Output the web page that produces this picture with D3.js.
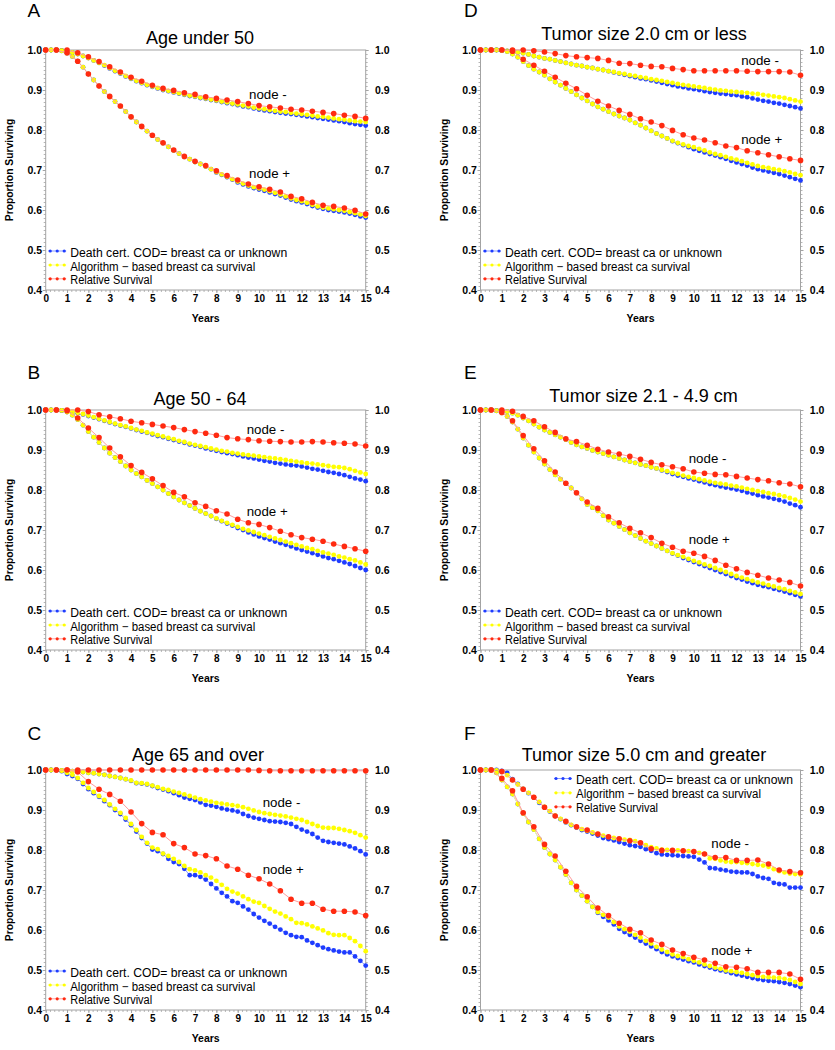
<!DOCTYPE html>
<html><head><meta charset="utf-8">
<script src="https://cdn.jsdelivr.net/npm/d3@7"></script>
<style>
body{margin:0;background:#fff}
svg{display:block}
text{font-family:"Liberation Sans",Arial,Helvetica,sans-serif;fill:#000}
</style></head>
<body><svg id="c" width="835" height="1050"></svg>
<script>
// ---------------- DATA ----------------
const quarterYears = [0,0.25,0.5,0.75,1,1.25,1.5,1.75,2,2.25,2.5,2.75,3,3.25,3.5,3.75,4,4.25,4.5,4.75,5,5.25,5.5,5.75,6,6.25,6.5,6.75,7,7.25,7.5,7.75,8,8.25,8.5,8.75,9,9.25,9.5,9.75,10,10.25,10.5,10.75,11,11.25,11.5,11.75,12,12.25,12.5,12.75,13,13.25,13.5,13.75,14,14.25,14.5,14.75,15];
const halfYears = [0,0.5,1,1.5,2,2.5,3,3.5,4,4.5,5,5.5,6,6.5,7,7.5,8,8.5,9,9.5,10,10.5,11,11.5,12,12.5,13,13.5,14,14.5,15];
const xTickValues = [0,1,2,3,4,5,6,7,8,9,10,11,12,13,14,15];
const yTickValues = [0.4,0.5,0.6,0.7,0.8,0.9,1.0];
const panelLetters = ["A","B","C","D","E","F"];
const panelTitles = ["Age under 50","Age 50 - 64","Age 65 and over","Tumor size 2.0 cm or less","Tumor size 2.1 - 4.9 cm","Tumor size 5.0 cm and greater"];
const seriesNames = ["Death cert. COD= breast ca or unknown","Algorithm \u2212 based breast ca survival","Relative Survival"];
const groupNames = ["node -","node +"];
// label anchors [year, proportion] for "node -" and "node +"
const nodeLabelAnchors = [
  [[9.53,0.877],[9.53,0.679]],
  [[9.42,0.939],[9.42,0.735]],
  [[10.17,0.908],[10.17,0.739]],
  [[12.22,0.9625],[12.22,0.765]],
  [[9.76,0.868],[9.76,0.666]],
  [[10.82,0.804],[10.82,0.5375]]
];

// Panel A: Age under 50
const aNegDC = [1,1,1,.999,.997,.994,.990,.985,.980,.974,.968,.961,.954,.947,.941,.934,.928,.922,.917,.912,.908,.904,.900,.897,.894,.891,.888,.885,.883,.880,.878,.875,.873,.870,.867,.865,.862,.859,.857,.854,.851,.849,.847,.845,.843,.841,.840,.838,.836,.834,.832,.830,.828,.826,.824,.822,.820,.817,.815,.813,.811];
const aNegAlg = [1,1,1,.999,.997,.994,.990,.985,.980,.974,.968,.962,.955,.948,.942,.935,.929,.923,.918,.913,.909,.905,.901,.898,.895,.892,.889,.886,.884,.881,.879,.876,.874,.871,.869,.866,.864,.861,.859,.856,.854,.852,.850,.848,.846,.845,.843,.841,.840,.838,.836,.834,.833,.831,.829,.827,.826,.824,.822,.821,.820];
const aNegRel = [1,1,1,.993,.983,.971,.958,.945,.932,.922,.912,.904,.899,.893,.889,.883,.879,.875,.871,.866,.861,.858,.855,.852,.850,.847,.844,.841,.837,.834,.829];
const aPosDC = [1,1,1,.998,.992,.984,.972,.957,.940,.925,.910,.896,.883,.871,.859,.846,.832,.820,.808,.797,.786,.776,.767,.758,.749,.741,.733,.727,.720,.715,.709,.702,.694,.688,.682,.676,.669,.664,.659,.655,.651,.648,.644,.640,.636,.631,.626,.622,.619,.615,.610,.606,.603,.600,.598,.596,.594,.591,.588,.584,.581];
const aPosAlg = [1,1,1,.998,.992,.984,.972,.957,.940,.925,.910,.896,.883,.871,.859,.846,.832,.820,.808,.797,.786,.776,.767,.758,.749,.741,.733,.727,.720,.715,.709,.702,.695,.689,.683,.677,.671,.666,.661,.657,.654,.651,.647,.643,.639,.634,.629,.625,.622,.618,.613,.609,.606,.604,.602,.600,.598,.595,.592,.589,.585];
const aPosRel = [1,1,.993,.972,.940,.910,.884,.860,.833,.809,.787,.768,.750,.734,.722,.711,.698,.686,.675,.665,.658,.652,.645,.634,.628,.619,.612,.609,.605,.599,.590];

// Panel B: Age 50 - 64
const bNegDC = [1,1,1,.999,.997,.995,.992,.989,.985,.981,.977,.973,.969,.965,.961,.958,.954,.950,.946,.943,.939,.935,.932,.928,.925,.921,.918,.914,.911,.908,.904,.901,.898,.895,.892,.890,.887,.884,.881,.879,.876,.873,.871,.868,.866,.864,.862,.861,.859,.856,.853,.851,.848,.845,.843,.840,.837,.833,.829,.826,.822];
const bNegAlg = [1,1,1,.999,.998,.996,.993,.990,.986,.982,.978,.974,.970,.966,.962,.959,.955,.951,.948,.944,.941,.937,.934,.930,.927,.923,.920,.916,.913,.910,.907,.904,.901,.898,.896,.893,.891,.889,.887,.886,.884,.882,.880,.879,.877,.875,.873,.871,.869,.867,.866,.864,.862,.860,.858,.857,.855,.852,.848,.844,.840];
const bNegRel = [1,1,1,1,.996,.988,.983,.978,.972,.968,.964,.960,.956,.951,.946,.942,.937,.931,.928,.926,.923,.922,.921,.920,.920,.921,.920,.918,.917,.915,.910];
const bPosDC = [1,1,1,.999,.995,.987,.976,.962,.946,.932,.919,.905,.892,.881,.871,.860,.850,.841,.833,.824,.816,.808,.800,.791,.783,.775,.768,.761,.754,.747,.741,.735,.728,.722,.716,.711,.705,.700,.694,.689,.684,.680,.676,.671,.667,.663,.659,.654,.650,.646,.642,.638,.634,.630,.627,.623,.619,.615,.610,.605,.600];
const bPosAlg = [1,1,1,.999,.995,.987,.976,.962,.946,.932,.919,.905,.892,.881,.871,.860,.850,.841,.833,.824,.816,.808,.800,.791,.783,.775,.768,.761,.754,.747,.741,.735,.729,.723,.718,.713,.708,.703,.699,.695,.691,.687,.683,.679,.675,.671,.667,.663,.659,.655,.652,.648,.644,.641,.638,.634,.631,.627,.624,.619,.614];
const bPosRel = [1,1,.998,.980,.955,.931,.905,.883,.861,.844,.828,.811,.794,.783,.768,.759,.748,.740,.727,.718,.714,.706,.697,.688,.681,.677,.672,.665,.659,.653,.647];

// Panel C: Age 65 and over
const cNegDC = [1,1,1,.999,.998,.997,.996,.995,.993,.992,.990,.988,.985,.983,.980,.977,.973,.967,.966,.964,.960,.955,.951,.947,.942,.937,.931,.928,.925,.919,.913,.911,.908,.904,.901,.899,.896,.890,.885,.881,.878,.875,.872,.871,.870,.868,.865,.858,.851,.846,.840,.831,.823,.820,.818,.816,.814,.809,.804,.797,.789];
const cNegAlg = [1,1,1,.999,.998,.997,.996,.995,.993,.992,.990,.988,.985,.983,.980,.977,.974,.968,.967,.965,.961,.957,.953,.950,.946,.943,.939,.935,.931,.927,.924,.921,.918,.916,.914,.912,.910,.907,.903,.899,.895,.892,.890,.888,.886,.884,.881,.878,.875,.870,.865,.860,.856,.855,.855,.853,.850,.847,.843,.837,.831];
const cNegRel = [1,1,1,1,1,1,1,1,1,1,1,1,1,1,1,1,1,1,1,1,.999,.998,.998,.998,.998,.998,.998,.998,.998,.998,.998];
const cPosDC = [1,1,1,.997,.990,.985,.978,.965,.952,.942,.933,.922,.912,.900,.890,.876,.862,.846,.830,.816,.801,.797,.790,.778,.770,.765,.753,.737,.737,.733,.726,.715,.704,.693,.684,.672,.668,.659,.651,.640,.631,.623,.616,.608,.601,.593,.587,.583,.582,.574,.568,.562,.556,.552,.549,.546,.544,.544,.534,.523,.511];
const cPosAlg = [1,1,1,.998,.993,.988,.980,.968,.955,.945,.935,.925,.914,.903,.893,.880,.865,.850,.833,.818,.806,.802,.791,.785,.778,.770,.760,.752,.749,.744,.737,.731,.723,.713,.703,.696,.691,.684,.677,.671,.668,.660,.653,.646,.641,.634,.627,.618,.617,.614,.609,.604,.599,.592,.588,.587,.587,.580,.572,.560,.547];
const cPosRel = [1,1,1,.995,.971,.952,.939,.922,.895,.866,.844,.838,.816,.806,.790,.786,.778,.760,.752,.737,.728,.715,.698,.677,.667,.667,.652,.647,.647,.645,.636];

// Panel D: Tumor size 2.0 cm or less
const dNegDC = [1,1,1,1,.999,.998,.996,.994,.992,.989,.985,.982,.979,.977,.974,.971,.968,.965,.962,.960,.957,.955,.952,.950,.947,.944,.941,.938,.935,.932,.929,.927,.924,.921,.918,.915,.912,.909,.907,.904,.902,.900,.897,.895,.893,.891,.890,.888,.887,.884,.882,.879,.876,.873,.871,.868,.866,.863,.860,.857,.854];
const dNegAlg = [1,1,1,1,.999,.998,.996,.994,.992,.989,.985,.982,.979,.977,.974,.971,.968,.965,.962,.960,.957,.955,.952,.950,.947,.945,.942,.940,.937,.935,.932,.930,.927,.925,.923,.920,.918,.915,.913,.911,.909,.907,.905,.903,.901,.899,.898,.896,.895,.894,.893,.891,.890,.888,.886,.884,.882,.880,.877,.874,.871];
const dNegRel = [1,1,1,1,1,.998,.995,.991,.986,.983,.981,.979,.974,.967,.966,.962,.959,.958,.954,.951,.948,.948,.948,.948,.948,.947,.946,.946,.946,.945,.937];
const dPosDC = [1,1,1,1,.999,.996,.990,.982,.971,.961,.952,.945,.937,.928,.920,.912,.904,.896,.888,.880,.873,.865,.858,.852,.846,.840,.835,.830,.825,.818,.812,.805,.798,.791,.785,.779,.772,.767,.762,.757,.752,.748,.744,.740,.736,.732,.728,.723,.719,.715,.711,.706,.702,.699,.696,.693,.690,.686,.682,.678,.674];
const dPosAlg = [1,1,1,1,.999,.996,.990,.982,.971,.961,.952,.945,.937,.928,.920,.912,.904,.896,.888,.880,.873,.865,.858,.852,.846,.840,.835,.830,.825,.818,.812,.805,.798,.791,.785,.779,.773,.768,.764,.760,.757,.753,.749,.744,.740,.737,.733,.729,.726,.722,.718,.714,.710,.707,.705,.702,.700,.697,.694,.690,.687];
const dPosRel = [1,1,1,.997,.977,.962,.947,.932,.917,.903,.887,.872,.860,.849,.839,.828,.820,.811,.799,.788,.780,.775,.768,.760,.756,.748,.743,.738,.733,.728,.724];

// Panel E: Tumor size 2.1 - 4.9 cm
const eNegDC = [1,1,1,.999,.998,.996,.992,.987,.980,.973,.965,.957,.950,.944,.938,.932,.926,.919,.913,.908,.904,.899,.895,.891,.887,.883,.879,.875,.871,.868,.864,.861,.857,.854,.849,.845,.840,.836,.833,.829,.826,.822,.819,.815,.812,.809,.806,.804,.801,.798,.794,.791,.787,.784,.781,.778,.775,.771,.766,.762,.757];
const eNegAlg = [1,1,1,.999,.998,.996,.992,.987,.980,.973,.965,.957,.950,.944,.938,.932,.926,.919,.913,.908,.904,.899,.895,.891,.887,.883,.879,.875,.871,.868,.864,.861,.857,.854,.850,.847,.843,.840,.836,.833,.830,.827,.824,.821,.818,.816,.814,.811,.809,.806,.803,.800,.797,.795,.792,.790,.787,.784,.780,.776,.771];
const eNegRel = [1,1,1,.997,.984,.973,.958,.944,.928,.921,.912,.902,.895,.890,.884,.877,.869,.863,.858,.853,.845,.842,.839,.838,.834,.830,.826,.823,.818,.815,.808];
const ePosDC = [1,1,1,.998,.993,.984,.970,.952,.930,.912,.895,.880,.865,.851,.838,.827,.816,.805,.793,.778,.764,.756,.748,.736,.725,.717,.709,.701,.693,.686,.679,.672,.666,.660,.654,.648,.641,.636,.630,.625,.620,.615,.610,.605,.600,.595,.590,.585,.580,.576,.571,.567,.563,.560,.557,.553,.550,.546,.542,.538,.534];
const ePosAlg = [1,1,1,.998,.993,.984,.970,.952,.930,.912,.895,.880,.865,.851,.838,.827,.816,.805,.793,.778,.764,.756,.748,.736,.725,.717,.709,.701,.693,.686,.679,.672,.666,.660,.654,.648,.642,.637,.633,.628,.623,.619,.614,.610,.605,.600,.595,.590,.585,.581,.577,.573,.569,.566,.562,.559,.555,.552,.548,.544,.540];
const ePosRel = [1,1,.994,.973,.936,.903,.873,.845,.817,.793,.770,.754,.733,.718,.704,.693,.681,.667,.657,.647,.642,.634,.624,.612,.603,.594,.587,.580,.575,.569,.560];

// Panel F: Tumor size 5.0 cm and greater
const fNegDC = [1,1,1,1,.998,.993,.977,.965,.953,.942,.931,.918,.907,.896,.885,.877,.869,.862,.856,.850,.846,.841,.836,.830,.827,.824,.820,.816,.812,.810,.808,.802,.798,.792,.789,.788,.787,.786,.785,.784,.783,.776,.769,.755,.754,.751,.749,.746,.745,.744,.744,.740,.734,.730,.728,.718,.715,.714,.706,.706,.706];
const fNegAlg = [1,1,1,.999,.996,.987,.975,.964,.953,.943,.932,.920,.908,.897,.886,.878,.870,.863,.857,.852,.848,.844,.840,.836,.833,.830,.828,.826,.825,.822,.818,.812,.807,.804,.801,.800,.799,.799,.798,.797,.796,.793,.790,.779,.778,.774,.771,.770,.770,.768,.767,.765,.763,.761,.758,.752,.747,.744,.741,.740,.739];
const fNegRel = [1,1,.996,.975,.952,.932,.907,.885,.872,.858,.850,.840,.833,.828,.823,.818,.803,.799,.799,.798,.796,.790,.781,.781,.774,.774,.775,.765,.750,.746,.743];
const fPosDC = [1,1,1,.993,.975,.958,.940,.915,.891,.870,.851,.828,.806,.790,.775,.757,.739,.718,.700,.686,.672,.658,.643,.633,.624,.614,.603,.595,.588,.581,.573,.566,.559,.552,.545,.539,.534,.530,.526,.522,.519,.514,.510,.506,.502,.499,.496,.492,.489,.486,.483,.480,.477,.475,.473,.472,.470,.468,.465,.461,.457];
const fPosAlg = [1,1,1,.993,.975,.958,.940,.915,.891,.870,.851,.828,.806,.790,.775,.757,.739,.718,.700,.686,.672,.658,.645,.638,.631,.620,.609,.602,.596,.588,.581,.573,.566,.558,.551,.545,.539,.535,.532,.527,.523,.519,.514,.510,.506,.503,.499,.497,.495,.493,.490,.487,.485,.483,.482,.481,.480,.478,.475,.470,.465];
const fPosRel = [1,1,.979,.948,.893,.858,.814,.785,.747,.709,.683,.655,.636,.617,.602,.593,.575,.564,.550,.541,.532,.525,.517,.508,.507,.503,.494,.494,.494,.490,.477];

// ---------------- BUILD ----------------
const panelSeries = [
  [[aNegDC,aNegAlg,aNegRel],[aPosDC,aPosAlg,aPosRel]],
  [[bNegDC,bNegAlg,bNegRel],[bPosDC,bPosAlg,bPosRel]],
  [[cNegDC,cNegAlg,cNegRel],[cPosDC,cPosAlg,cPosRel]],
  [[dNegDC,dNegAlg,dNegRel],[dPosDC,dPosAlg,dPosRel]],
  [[eNegDC,eNegAlg,eNegRel],[ePosDC,ePosAlg,ePosRel]],
  [[fNegDC,fNegAlg,fNegRel],[fPosDC,fPosAlg,fPosRel]]
];
const seriesTimes = [quarterYears, quarterYears, halfYears];

// layout (positions / styles)
const layout = [
  {left:45.7, top:50,  titleX:200,   titleY:44.3, letterX:27.5, letterY:16.7, legend:"bottom"},
  {left:45.7, top:410, titleX:200,   titleY:405,  letterX:27.5, letterY:379,  legend:"bottom"},
  {left:45.7, top:770, titleX:198,   titleY:761,  letterX:27.5, letterY:740,  legend:"bottom"},
  {left:480.5,top:50,  titleX:644,   titleY:40,   letterX:464,  letterY:16.7, legend:"bottom"},
  {left:480.5,top:410, titleX:643.5, titleY:401.7,letterX:464,  letterY:379,  legend:"bottom"},
  {left:480.5,top:770, titleX:644,   titleY:761,  letterX:464,  letterY:740,  legend:"top"}
];
const W = 320, H = 240;
const dotColors  = ["#1e3cff","#ffff00","#ff2a10"];
const lineColors = ["#8a9cff","#ffff8c","#ff9c9c"];
const dotR = [2.4, 2.4, 2.8];
const frameColor = "#a3a3a3";
const legendWidths = [217, 185, 82];

const svg = d3.select("#c");
const fmtY = d3.format(".1f");
const yMinor = d3.range(40, 101, 1).map(v => v/100);
const xMinor = d3.range(0, 76, 1).map(v => v/5);

panelSeries.forEach((groups, pi) => {
  const L = layout[pi];
  const x = d3.scaleLinear().domain([0,15]).range([L.left, L.left + W]);
  const y = d3.scaleLinear().domain([0.4,1.0]).range([L.top + H, L.top]);
  const g = svg.append("g");

  // letter & title
  g.append("text").attr("x", L.letterX).attr("y", L.letterY)
    .attr("font-size", 19).text(panelLetters[pi]);
  g.append("text").attr("x", L.titleX).attr("y", L.titleY)
    .attr("text-anchor","middle").attr("font-size", 18).text(panelTitles[pi]);

  // minor ticks
  const minorL = d3.axisLeft(y).tickValues(yMinor).tickSize(2).tickFormat("");
  const minorR = d3.axisRight(y).tickValues(yMinor).tickSize(2).tickFormat("");
  const minorB = d3.axisBottom(x).tickValues(xMinor).tickSize(2).tickFormat("");
  [[minorL,`translate(${L.left},0)`],[minorR,`translate(${L.left+W},0)`],[minorB,`translate(0,${L.top+H})`]]
    .forEach(([ax,tr]) => {
      const a = g.append("g").attr("transform", tr).call(ax);
      a.select(".domain").remove();
      a.selectAll("line").attr("stroke", frameColor).attr("stroke-width", 0.8);
    });

  // major axes with labels
  const axL = g.append("g").attr("transform", `translate(${L.left},0)`)
    .call(d3.axisLeft(y).tickValues(yTickValues).tickSize(3).tickPadding(0.6).tickFormat(fmtY));
  const axR = g.append("g").attr("transform", `translate(${L.left+W},0)`)
    .call(d3.axisRight(y).tickValues(yTickValues).tickSize(3).tickPadding(6.3).tickFormat(fmtY));
  const axB = g.append("g").attr("transform", `translate(0,${L.top+H})`)
    .call(d3.axisBottom(x).tickValues(xTickValues).tickSize(3).tickPadding(1.5).tickFormat(d3.format("d")));
  [axL, axR, axB].forEach(a => {
    a.select(".domain").remove();
    a.selectAll("line").attr("stroke", frameColor);
    a.selectAll("text").attr("font-size", 10.5).attr("font-weight","bold")
      .attr("font-family", '"Liberation Sans",Arial,sans-serif').attr("fill","#000");
  });
  axB.selectAll("text").attr("font-size", 10);

  // frame
  g.append("rect").attr("x", L.left).attr("y", L.top).attr("width", W).attr("height", H)
    .attr("fill","none").attr("stroke", frameColor).attr("stroke-width", 1);

  // axis titles
  g.append("text").attr("x", L.left + W/2).attr("y", L.top + H + 32.3)
    .attr("text-anchor","middle").attr("font-size", 10.5).attr("font-weight","bold").text("Years");
  g.append("text")
    .attr("transform", `translate(${L.left - 32.7},${L.top + H/2}) rotate(-90)`)
    .attr("text-anchor","middle").attr("font-size", 10.3).attr("font-weight","bold")
    .text("Proportion Surviving");

  // series
  const line = d3.line().x(d => x(d[0])).y(d => y(d[1]));
  groups.forEach(series => {
    series.forEach((vals, si) => {
      const pts = vals.map((v, i) => [seriesTimes[si][i], v]);
      g.append("path").datum(pts).attr("d", line)
        .attr("fill","none").attr("stroke", lineColors[si]).attr("stroke-width", 1);
      g.append("g").selectAll("circle").data(pts).join("circle")
        .attr("cx", d => x(d[0])).attr("cy", d => y(d[1]))
        .attr("r", dotR[si]).attr("fill", dotColors[si]);
    });
  });

  // node labels
  nodeLabelAnchors[pi].forEach((a, k) => {
    g.append("text").attr("x", x(a[0])).attr("y", y(a[1]))
      .attr("font-size", 13.3).text(groupNames[k]);
  });

  // legend
  const rowsY = L.legend === "bottom"
    ? [L.top + H - 33.5, L.top + H - 19.5, L.top + H - 5.7]
    : [L.top + 14, L.top + 28.3, L.top + 42.3];
  const textX = L.legend === "bottom" ? L.left + 24.5 : L.left + 95.5;
  const symX = textX - 22;
  seriesNames.forEach((name, si) => {
    const yy = rowsY[si];
    const sy = yy - 5.5;
    g.append("line").attr("x1", symX).attr("x2", symX + 18).attr("y1", sy).attr("y2", sy)
      .attr("stroke", lineColors[si]).attr("stroke-width", 1);
    [2, 9, 16].forEach(o => g.append("circle").attr("cx", symX + o).attr("cy", sy)
      .attr("r", 1.6).attr("fill", dotColors[si]));
    g.append("text").attr("x", textX).attr("y", yy).attr("font-size", 12.3)
      .attr("textLength", legendWidths[si]).attr("lengthAdjust", "spacingAndGlyphs")
      .text(name);
  });
});
</script>
</body></html>
